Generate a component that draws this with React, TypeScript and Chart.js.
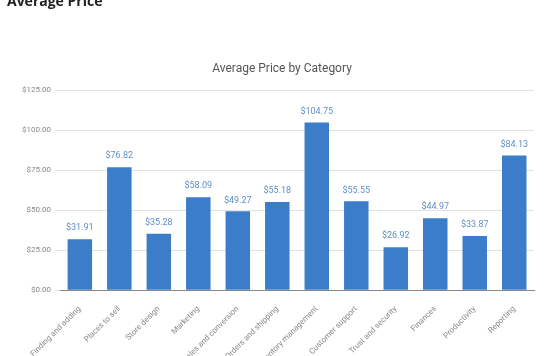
import React, { useEffect, useRef } from "react";
import { Chart, registerables } from "chart.js";

Chart.register(...registerables);

const categories = [
  "Finding and adding",
  "Places to sell",
  "Store design",
  "Marketing",
  "Sales and conversion",
  "Orders and shipping",
  "Inventory management",
  "Customer support",
  "Trust and security",
  "Finances",
  "Productivity",
  "Reporting",
];
const prices = [31.91, 76.82, 35.28, 58.09, 49.27, 55.18, 104.75, 55.55, 26.92, 44.97, 33.87, 84.13];
const yTicks = [0, 25, 50, 75, 100, 125];

const valueLabels = {
  id: "valueLabels",
  afterDatasetsDraw(chart: any) {
    const ctx = chart.ctx;
    const meta = chart.getDatasetMeta(0);
    ctx.save();
    ctx.font = "9px Roboto";
    ctx.fillStyle = "#5f8fc6";
    ctx.textAlign = "center";
    ctx.textBaseline = "middle";
    meta.data.forEach((bar: any, i: number) => {
      ctx.fillText("$" + prices[i].toFixed(2), bar.x, bar.y - 11);
    });
    ctx.restore();
  },
};

export default function App() {
  const ref = useRef<HTMLCanvasElement>(null);
  useEffect(() => {
    const chart = new Chart(ref.current!, {
      type: "bar",
      data: {
        labels: categories,
        datasets: [
          {
            data: prices,
            backgroundColor: "#3b7dc8",
            barPercentage: 0.62,
            categoryPercentage: 1,
          },
        ],
      },
      options: {
        animation: false,
        responsive: false,
        layout: { padding: { top: 90, left: 18, right: 16, bottom: 0 } },
        plugins: {
          legend: { display: false },
          tooltip: { enabled: false },
          title: { display: false },
        },
        scales: {
          x: {
            grid: { display: false },
            border: { color: "#888" },
            ticks: {
              color: "#888",
              font: { family: "Roboto", size: 8 },
              maxRotation: 45,
              minRotation: 45,
              autoSkip: false,
              padding: 6,
            },
          },
          y: {
            min: 0,
            max: 125,
            afterBuildTicks: (axis: any) => {
              axis.ticks = yTicks.map((v) => ({ value: v }));
            },
            grid: { color: "#e2e2e2", tickLength: 5, drawTicks: true },
            border: { display: false },
            ticks: {
              color: "#888",
              font: { family: "Roboto", size: 8 },
              padding: 4,
              callback: (v: any) => "$" + Number(v).toFixed(2),
            },
          },
        },
      },
      plugins: [valueLabels],
    });
    return () => chart.destroy();
  }, []);
  return (
    <div style={{ position: "absolute", left: 0, top: 0, width: 550, height: 356, background: "#fff", overflow: "hidden" }}>
      <canvas ref={ref} width={550} height={375} style={{ position: "absolute", left: 0, top: 0 }} />
      <div
        style={{
          position: "absolute",
          left: 182,
          width: 200,
          top: 61,
          textAlign: "center",
          fontFamily: "Roboto, sans-serif",
          fontSize: 12,
          color: "#555",
          lineHeight: "15px",
        }}
      >
        Average Price by Category
      </div>
      <div
        style={{
          position: "absolute",
          left: 7,
          top: -9,
          fontFamily: "'Open Sans', sans-serif",
          fontWeight: 700,
          fontSize: 14,
          color: "#222",
          lineHeight: "20px",
        }}
      >
        Average Price
      </div>
    </div>
  );
}
